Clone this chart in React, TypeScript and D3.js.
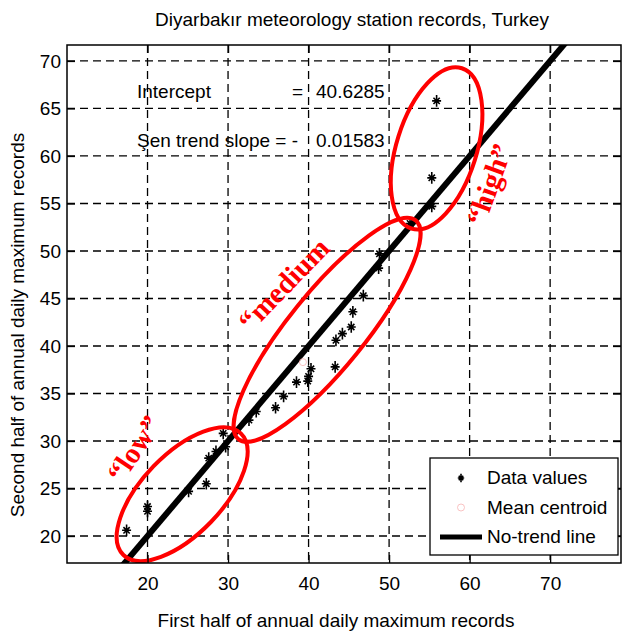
import React, { useEffect, useRef } from "react";
import * as d3 from "d3";

// first half vs second half of annual daily maxima
const firstHalf = [
  17.4, 20.0, 20.0, 25.1, 27.3, 27.6, 28.5, 29.4, 29.7, 32.6, 33.5, 35.9, 36.9,
  38.5, 39.9, 40.0, 40.3, 43.3, 43.4, 44.2, 45.3, 45.5, 46.8, 48.7, 48.8, 52.6,
  55.3, 55.3, 55.9,
];
const secondHalf = [
  20.6, 22.6, 23.1, 24.7, 25.5, 28.2, 28.9, 30.8, 29.4, 32.2, 33.1, 33.5, 34.7,
  36.2, 36.3, 36.8, 37.6, 37.8, 40.6, 41.3, 42.0, 43.6, 45.3, 48.2, 49.7, 52.9,
  54.7, 57.7, 65.8,
];
const centroid = [39.3, 38.3];

const xTicks = [20, 30, 40, 50, 60, 70];
const yTicks = [20, 25, 30, 35, 40, 45, 50, 55, 60, 65, 70];

// group ellipses
const groupLabels = ["\u201Clow\u201D", "\u201Cmedium", "\u201Chigh\u201D"];
const groupCx = [24.3, 42.3, 55.9];
const groupCy = [24.4, 41.7, 60.8];
const groupLabelX = [18.3, 36.9, 62.4];
const groupLabelY = [29.2, 46.5, 57.0];

const legendLabels = ["Data values", "Mean centroid", "No-trend line"];

const W = 623;
const H = 634;
const margin = { top: 45, right: 2, bottom: 71, left: 67 };
const font = "'Liberation Sans', Arial, Helvetica, sans-serif";

const starPath = (s: number) =>
  `M0,${-s * 1.3}V${s * 1.3}M${-s},0H${s}M${-s * 0.7},${-s * 0.7}L${s * 0.7},${s * 0.7}M${-s * 0.7},${s * 0.7}L${s * 0.7},${-s * 0.7}`;

const App = () => {
  const svgRef = useRef<SVGSVGElement>(null);

  useEffect(() => {
    const svg = d3.select(svgRef.current);
    svg.selectAll("*").remove();

    const x = d3.scaleLinear().domain([10, 78.8]).range([margin.left, W - margin.right]);
    const y = d3.scaleLinear().domain([17.16, 71.68]).range([H - margin.bottom, margin.top]);
    const [x0, x1] = x.range();
    const [y1, y0] = y.range();

    svg.append("rect").attr("width", W).attr("height", H).attr("fill", "#fff");

    svg
      .append("defs")
      .append("clipPath")
      .attr("id", "plotclip")
      .append("rect")
      .attr("x", x0)
      .attr("y", y0)
      .attr("width", x1 - x0)
      .attr("height", y1 - y0);

    // grid
    const grid = svg.append("g").attr("stroke", "#000").attr("stroke-width", 1.3).attr("stroke-dasharray", "8,5");
    grid.selectAll(".gx").data(xTicks).join("line").attr("x1", (d) => x(d)).attr("x2", (d) => x(d)).attr("y1", y0).attr("y2", y1);
    grid.selectAll(".gy").data(yTicks).join("line").attr("y1", (d) => y(d)).attr("y2", (d) => y(d)).attr("x1", x0).attr("x2", x1);

    // annotations
    const ann = svg.append("g").attr("font-family", font).attr("font-size", 19).attr("fill", "#000");
    ann.append("text").attr("x", 137).attr("y", 98).text("Intercept");
    ann.append("text").attr("x", 292).attr("y", 98).text("=");
    ann.append("text").attr("x", 316).attr("y", 98).text("40.6285");
    ann.append("text").attr("x", 137).attr("y", 147).text("\u015Een trend slope = -");
    ann.append("text").attr("x", 316).attr("y", 147).text("0.01583");

    const plot = svg.append("g").attr("clip-path", "url(#plotclip)");

    // no-trend line y = x
    plot
      .append("line")
      .attr("x1", x(10))
      .attr("y1", y(10))
      .attr("x2", x(80))
      .attr("y2", y(80))
      .attr("stroke", "#000")
      .attr("stroke-width", 6);

    // data points
    plot
      .selectAll(".pt")
      .data(firstHalf)
      .join("path")
      .attr("class", "pt")
      .attr("transform", (d, i) => `translate(${x(d)},${y(secondHalf[i])})`)
      .attr("d", starPath(4.5))
      .attr("stroke", "#000")
      .attr("stroke-width", 1.6)
      .attr("fill", "none");

    plot
      .append("circle")
      .attr("cx", x(centroid[0]))
      .attr("cy", y(centroid[1]))
      .attr("r", 3.5)
      .attr("fill", "none")
      .attr("stroke", "#f7b4b4")
      .attr("stroke-width", 0.8);

    // group ellipses (semi-axes in px, rotation in degrees)
    const rx = [84.5, 140.8, 84];
    const ry = [40, 38, 40];
    const rot = [-46, -51, -72.5];
    plot
      .selectAll(".grp")
      .data(groupCx)
      .join("ellipse")
      .attr("class", "grp")
      .attr("transform", (d, i) => `translate(${x(d)},${y(groupCy[i])}) rotate(${rot[i]})`)
      .attr("rx", (d, i) => rx[i])
      .attr("ry", (d, i) => ry[i])
      .attr("fill", "none")
      .attr("stroke", "#ff0000")
      .attr("stroke-width", 4);

    const labRot = [-56, -46, -70];
    svg
      .selectAll(".glab")
      .data(groupLabels)
      .join("text")
      .attr("class", "glab")
      .attr("transform", (d, i) => `translate(${x(groupLabelX[i])},${y(groupLabelY[i])}) rotate(${labRot[i]})`)
      .attr("text-anchor", "middle")
      .attr("dy", "0.35em")
      .attr("font-family", "'Liberation Serif', 'Times New Roman', serif")
      .attr("font-weight", "bold")
      .attr("font-size", 29)
      .attr("fill", "#ff0000")
      .text((d) => d);

    // axes: ticks point inward as in MATLAB
    const xAxis = svg
      .append("g")
      .attr("transform", `translate(0,${y1})`)
      .call(d3.axisBottom(x).tickValues(xTicks).tickSize(-8).tickPadding(14));
    const yAxis = svg
      .append("g")
      .attr("transform", `translate(${x0},0)`)
      .call(d3.axisLeft(y).tickValues(yTicks).tickSize(-8).tickPadding(6));
    svg
      .append("g")
      .attr("transform", `translate(0,${y0})`)
      .call(d3.axisTop(x).tickValues(xTicks).tickSize(-8).tickFormat(() => ""));
    svg
      .append("g")
      .attr("transform", `translate(${x1},0)`)
      .call(d3.axisRight(y).tickValues(yTicks).tickSize(-8).tickFormat(() => ""));
    svg.selectAll(".domain").remove();
    svg.selectAll(".tick line").attr("stroke", "#000").attr("stroke-width", 1.3);
    [xAxis, yAxis].forEach((a) =>
      a.selectAll("text").attr("font-family", font).attr("font-size", 19).attr("fill", "#000")
    );

    // box
    svg
      .append("rect")
      .attr("x", x0)
      .attr("y", y0)
      .attr("width", x1 - x0)
      .attr("height", y1 - y0)
      .attr("fill", "none")
      .attr("stroke", "#000")
      .attr("stroke-width", 1.5);

    // legend
    const lg = svg.append("g").attr("transform", "translate(430,458)");
    lg.append("rect").attr("width", 188).attr("height", 97).attr("fill", "#fff").attr("stroke", "#000").attr("stroke-width", 1.3);
    lg.selectAll("text")
      .data(legendLabels)
      .join("text")
      .attr("x", 57)
      .attr("y", (d, i) => 26 + i * 29.5)
      .attr("font-family", font)
      .attr("font-size", 19)
      .text((d) => d);
    lg.append("path").attr("transform", "translate(31,20)").attr("d", starPath(3.2)).attr("stroke", "#000").attr("stroke-width", 1.6);
    lg.append("circle").attr("cx", 31).attr("cy", 49.5).attr("r", 3.5).attr("fill", "none").attr("stroke", "#f7b4b4").attr("stroke-width", 0.8);
    lg.append("line").attr("x1", 10).attr("x2", 52).attr("y1", 79).attr("y2", 79).attr("stroke", "#000").attr("stroke-width", 5);

    // titles
    const t = svg.append("g").attr("font-family", font).attr("font-size", 19).attr("fill", "#000").attr("text-anchor", "middle");
    t.append("text").attr("x", 352).attr("y", 26).text("Diyarbak\u0131r meteorology station records, Turkey");
    t.append("text").attr("x", 336).attr("y", 627).text("First half of annual daily maximum records");
    t.append("text")
      .attr("transform", `translate(24,${(y0 + y1) / 2 + 21}) rotate(-90)`)
      .text("Second half of annual daily maximum records");
  }, []);

  return (
    <div style={{ position: "absolute", left: 0, top: 0 }}>
      <svg ref={svgRef} width={W} height={H} style={{ display: "block" }} />
    </div>
  );
};

export default App;
